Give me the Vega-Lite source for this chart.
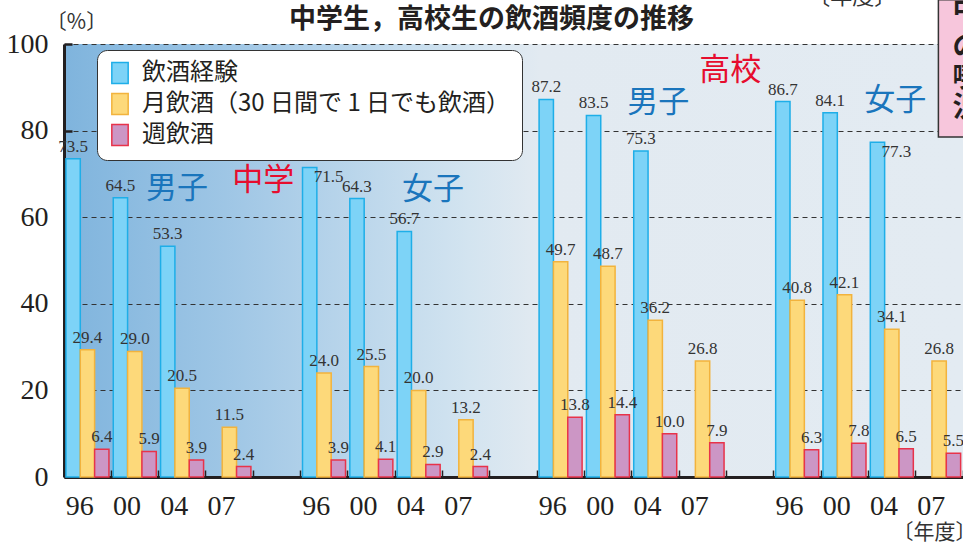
{
  "$schema": "https://vega.github.io/schema/vega-lite/v6.json",
  "width": 899,
  "height": 433,
  "autosize": {"type": "none"},
  "padding": {"left": 64, "top": 44, "right": 0, "bottom": 67},
  "background": "white",
  "config": {
    "font": "Noto Sans CJK JP",
    "view": {
      "stroke": null,
      "fill": {
        "gradient": "linear", "x1": 0, "y1": 0, "x2": 1, "y2": 0,
        "stops": [
          {"offset": 0, "color": "#7fb4dd"},
          {"offset": 0.2, "color": "#a2c8e6"},
          {"offset": 0.45, "color": "#d3e4f0"},
          {"offset": 0.53, "color": "#e2eaf1"},
          {"offset": 1, "color": "#e3ebf2"}
        ]
      }
    }
  },
  "title": {
    "text": "中学生，高校生の飲酒頻度の推移",
    "font": "Noto Sans CJK JP",
    "fontSize": 27,
    "fontWeight": "bold",
    "color": "#231f20",
    "anchor": "middle",
    "frame": "group",
    "dx": -22,
    "dy": 56,
    "offset": 8
  },
  "datasets": {
    "bars": [
      {"slot": "中男96", "series": "飲酒経験", "v": 73.5},
      {"slot": "中男96", "series": "月飲酒（30 日間で 1 日でも飲酒）", "v": 29.4},
      {"slot": "中男96", "series": "週飲酒", "v": 6.4},
      {"slot": "中男00", "series": "飲酒経験", "v": 64.5},
      {"slot": "中男00", "series": "月飲酒（30 日間で 1 日でも飲酒）", "v": 29.0},
      {"slot": "中男00", "series": "週飲酒", "v": 5.9},
      {"slot": "中男04", "series": "飲酒経験", "v": 53.3},
      {"slot": "中男04", "series": "月飲酒（30 日間で 1 日でも飲酒）", "v": 20.5},
      {"slot": "中男04", "series": "週飲酒", "v": 3.9},
      {"slot": "中男07", "series": "月飲酒（30 日間で 1 日でも飲酒）", "v": 11.5},
      {"slot": "中男07", "series": "週飲酒", "v": 2.4},
      {"slot": "中女96", "series": "飲酒経験", "v": 71.5},
      {"slot": "中女96", "series": "月飲酒（30 日間で 1 日でも飲酒）", "v": 24.0},
      {"slot": "中女96", "series": "週飲酒", "v": 3.9},
      {"slot": "中女00", "series": "飲酒経験", "v": 64.3},
      {"slot": "中女00", "series": "月飲酒（30 日間で 1 日でも飲酒）", "v": 25.5},
      {"slot": "中女00", "series": "週飲酒", "v": 4.1},
      {"slot": "中女04", "series": "飲酒経験", "v": 56.7},
      {"slot": "中女04", "series": "月飲酒（30 日間で 1 日でも飲酒）", "v": 20.0},
      {"slot": "中女04", "series": "週飲酒", "v": 2.9},
      {"slot": "中女07", "series": "月飲酒（30 日間で 1 日でも飲酒）", "v": 13.2},
      {"slot": "中女07", "series": "週飲酒", "v": 2.4},
      {"slot": "高男96", "series": "飲酒経験", "v": 87.2},
      {"slot": "高男96", "series": "月飲酒（30 日間で 1 日でも飲酒）", "v": 49.7},
      {"slot": "高男96", "series": "週飲酒", "v": 13.8},
      {"slot": "高男00", "series": "飲酒経験", "v": 83.5},
      {"slot": "高男00", "series": "月飲酒（30 日間で 1 日でも飲酒）", "v": 48.7},
      {"slot": "高男00", "series": "週飲酒", "v": 14.4},
      {"slot": "高男04", "series": "飲酒経験", "v": 75.3},
      {"slot": "高男04", "series": "月飲酒（30 日間で 1 日でも飲酒）", "v": 36.2},
      {"slot": "高男04", "series": "週飲酒", "v": 10.0},
      {"slot": "高男07", "series": "月飲酒（30 日間で 1 日でも飲酒）", "v": 26.8},
      {"slot": "高男07", "series": "週飲酒", "v": 7.9},
      {"slot": "高女96", "series": "飲酒経験", "v": 86.7},
      {"slot": "高女96", "series": "月飲酒（30 日間で 1 日でも飲酒）", "v": 40.8},
      {"slot": "高女96", "series": "週飲酒", "v": 6.3},
      {"slot": "高女00", "series": "飲酒経験", "v": 84.1},
      {"slot": "高女00", "series": "月飲酒（30 日間で 1 日でも飲酒）", "v": 42.1},
      {"slot": "高女00", "series": "週飲酒", "v": 7.8},
      {"slot": "高女04", "series": "飲酒経験", "v": 77.3},
      {"slot": "高女04", "series": "月飲酒（30 日間で 1 日でも飲酒）", "v": 34.1},
      {"slot": "高女04", "series": "週飲酒", "v": 6.5},
      {"slot": "高女07", "series": "月飲酒（30 日間で 1 日でも飲酒）", "v": 26.8},
      {"slot": "高女07", "series": "週飲酒", "v": 5.5}
    ],
    "notes": [
      {"t": "男子", "kind": "sex", "ax": 2.39, "ay": 66.5},
      {"t": "中学", "kind": "school", "ax": 4.21, "ay": 68.4},
      {"t": "女子", "kind": "sex", "ax": 7.8, "ay": 66.3},
      {"t": "高校", "kind": "school", "ax": 14.08, "ay": 93.8},
      {"t": "男子", "kind": "sex", "ax": 12.56, "ay": 86.4},
      {"t": "女子", "kind": "sex", "ax": 17.57, "ay": 86.8}
    ],
    "box": [
      {"ax": 18.48, "ax2": 19.8, "ay": 78.5, "ay2": 110.2}
    ],
    "boxtext": [
      {"t": "中", "ax": 18.78, "ay": 107.5},
      {"t": "の", "ax": 18.78, "ay": 99.0},
      {"t": "喫", "ax": 18.78, "ay": 92.0},
      {"t": "況", "ax": 18.78, "ay": 85.0}
    ],
    "cut": [
      {"t": "〔年度〕", "ax": 16.66, "ay": 110.9}
    ]
  },
  "layer": [
    {
      "data": {"name": "bars"},
      "encoding": {
        "x": {
          "field": "slot",
          "type": "nominal",
          "sort": null,
          "scale": {
            "domain": ["中男96", "中男00", "中男04", "中男07", "gap1", "中女96", "中女00", "中女04", "中女07", "gap2", "高男96", "高男00", "高男04", "高男07", "gap3", "高女96", "高女00", "高女04", "高女07"],
            "paddingInner": 0,
            "paddingOuter": 0
          },
          "axis": {
            "title": "〔年度〕",
            "titleX": 870,
            "titleY": 55,
            "titleAlign": "center",
            "titleBaseline": "middle",
            "titleFont": "Noto Sans CJK JP",
            "titleFontSize": 21,
            "titleFontWeight": "normal",
            "titleColor": "#333333",
            "labelExpr": "indexof(datum.value, 'gap') >= 0 ? '' : slice(datum.value, -2)",
            "labelAngle": 0,
            "labelFont": "Liberation Serif",
            "labelFontSize": 28,
            "labelColor": "#231f20",
            "labelPadding": 22,
            "bandPosition": 1,
            "labelOffset": -8,
            "tickSize": -7,
            "tickWidth": 1.5,
            "tickColor": "#231f20",
            "domainColor": "#231f20",
            "domainWidth": 3,
            "grid": false
          }
        },
        "xOffset": {
          "field": "series",
          "type": "nominal",
          "scale": {
            "domain": ["飲酒経験", "月飲酒（30 日間で 1 日でも飲酒）", "週飲酒"],
            "paddingInner": 0,
            "paddingOuter": 0.15,
            "align": 0.45
          }
        },
        "y": {
          "field": "v",
          "type": "quantitative",
          "scale": {"domain": [0, 100], "nice": false},
          "axis": {
            "title": "〔%〕",
            "titleAngle": 0,
            "titleX": 12,
            "titleY": -22,
            "titleAlign": "center",
            "titleBaseline": "middle",
            "titleFont": "Noto Sans CJK JP",
            "titleFontSize": 21,
            "titleFontWeight": "normal",
            "titleColor": "#333333",
            "values": [0, 20, 40, 60, 80, 100],
            "labelFont": "Liberation Serif",
            "labelFontSize": 28,
            "labelColor": "#231f20",
            "labelPadding": 24,
            "tickSize": -8,
            "tickWidth": 2.5,
            "tickColor": "#231f20",
            "domainColor": "#231f20",
            "domainWidth": 3,
            "grid": true,
            "gridDash": [5, 4],
            "gridColor": "#333333",
            "gridWidth": 1,
            "gridOpacity": 1
          }
        }
      },
      "layer": [
        {
          "mark": {"type": "bar", "strokeWidth": 1.5},
          "encoding": {
            "fill": {
              "field": "series",
              "type": "nominal",
              "scale": {
                "domain": ["飲酒経験", "月飲酒（30 日間で 1 日でも飲酒）", "週飲酒"],
                "range": ["#7dd3f7", "#fdd97a", "#cc96c5"]
              },
              "legend": {
                "title": null,
                "orient": "none",
                "legendX": 33,
                "legendY": 6,
                "fillColor": "white",
                "strokeColor": "#333333",
                "cornerRadius": 10,
                "padding": 11,
                "labelFont": "Noto Sans CJK JP",
                "labelFontSize": 24,
                "labelColor": "#231f20",
                "labelLimit": 600,
                "labelOffset": 10,
                "symbolType": "M-0.78,-1H0.78V1H-0.78Z",
                "symbolSize": 440,
                "symbolStrokeWidth": 1.5,
                "symbolOpacity": 1,
                "rowPadding": 3
              }
            },
            "stroke": {
              "field": "series",
              "type": "nominal",
              "scale": {
                "domain": ["飲酒経験", "月飲酒（30 日間で 1 日でも飲酒）", "週飲酒"],
                "range": ["#1eaee8", "#f2b33d", "#e8334a"]
              },
              "legend": {
                "title": null,
                "orient": "none",
                "legendX": 33,
                "legendY": 6,
                "fillColor": "white",
                "strokeColor": "#333333",
                "cornerRadius": 10,
                "padding": 11,
                "labelFont": "Noto Sans CJK JP",
                "labelFontSize": 24,
                "labelColor": "#231f20",
                "labelLimit": 600,
                "labelOffset": 10,
                "symbolType": "M-0.78,-1H0.78V1H-0.78Z",
                "symbolSize": 440,
                "symbolStrokeWidth": 1.5,
                "symbolOpacity": 1,
                "rowPadding": 3
              }
            }
          }
        },
        {
          "transform": [{"filter": "datum.v != 71.5 && datum.v != 77.3"}],
          "mark": {"type": "text", "baseline": "bottom", "dy": -3, "font": "Liberation Serif", "fontSize": 17, "color": "#333333"},
          "encoding": {
            "text": {"field": "v", "type": "quantitative", "format": ".1f"}
          }
        },
        {
          "transform": [{"filter": "datum.v == 71.5 || datum.v == 77.3"}],
          "mark": {"type": "text", "baseline": "top", "align": "left", "dx": 4, "dy": 2, "font": "Liberation Serif", "fontSize": 17, "color": "#333333"},
          "encoding": {
            "text": {"field": "v", "type": "quantitative", "format": ".1f"}
          }
        }
      ]
    },
    {
      "layer": [
        {
          "data": {"name": "notes"},
          "mark": {"type": "text", "font": "Noto Sans CJK JP", "fontSize": 31, "align": "center", "baseline": "middle"},
          "encoding": {
            "x": {"field": "ax", "type": "quantitative", "scale": {"domain": [0, 19], "nice": false, "zero": false}, "axis": null},
            "y": {"field": "ay", "type": "quantitative", "scale": {"domain": [0, 100], "nice": false}, "axis": null},
            "text": {"field": "t"},
            "color": {"field": "kind", "type": "nominal", "scale": {"domain": ["sex", "school"], "range": ["#1a75bc", "#e60d2e"]}, "legend": null}
          }
        },
        {
          "data": {"name": "box"},
          "mark": {"type": "rect", "fill": "#f7c6dc", "stroke": "#333333", "strokeWidth": 1.5},
          "encoding": {
            "x": {"field": "ax", "type": "quantitative", "scale": {"domain": [0, 19], "nice": false, "zero": false}, "axis": null},
            "x2": {"field": "ax2"},
            "y": {"field": "ay", "type": "quantitative", "scale": {"domain": [0, 100], "nice": false}, "axis": null},
            "y2": {"field": "ay2"}
          }
        },
        {
          "data": {"name": "boxtext"},
          "mark": {"type": "text", "font": "Noto Sans CJK JP", "fontSize": 28, "fontWeight": "bold", "align": "left", "baseline": "middle", "color": "#231f20"},
          "encoding": {
            "x": {"field": "ax", "type": "quantitative", "scale": {"domain": [0, 19], "nice": false, "zero": false}, "axis": null},
            "y": {"field": "ay", "type": "quantitative", "scale": {"domain": [0, 100], "nice": false}, "axis": null},
            "text": {"field": "t"}
          }
        },
        {
          "data": {"name": "cut"},
          "mark": {"type": "text", "font": "Noto Sans CJK JP", "fontSize": 22, "align": "center", "baseline": "middle", "color": "#333333"},
          "encoding": {
            "x": {"field": "ax", "type": "quantitative", "scale": {"domain": [0, 19], "nice": false, "zero": false}, "axis": null},
            "y": {"field": "ay", "type": "quantitative", "scale": {"domain": [0, 100], "nice": false}, "axis": null},
            "text": {"field": "t"}
          }
        }
      ]
    }
  ],
  "resolve": {"scale": {"x": "independent", "y": "independent", "color": "independent"}}
}
